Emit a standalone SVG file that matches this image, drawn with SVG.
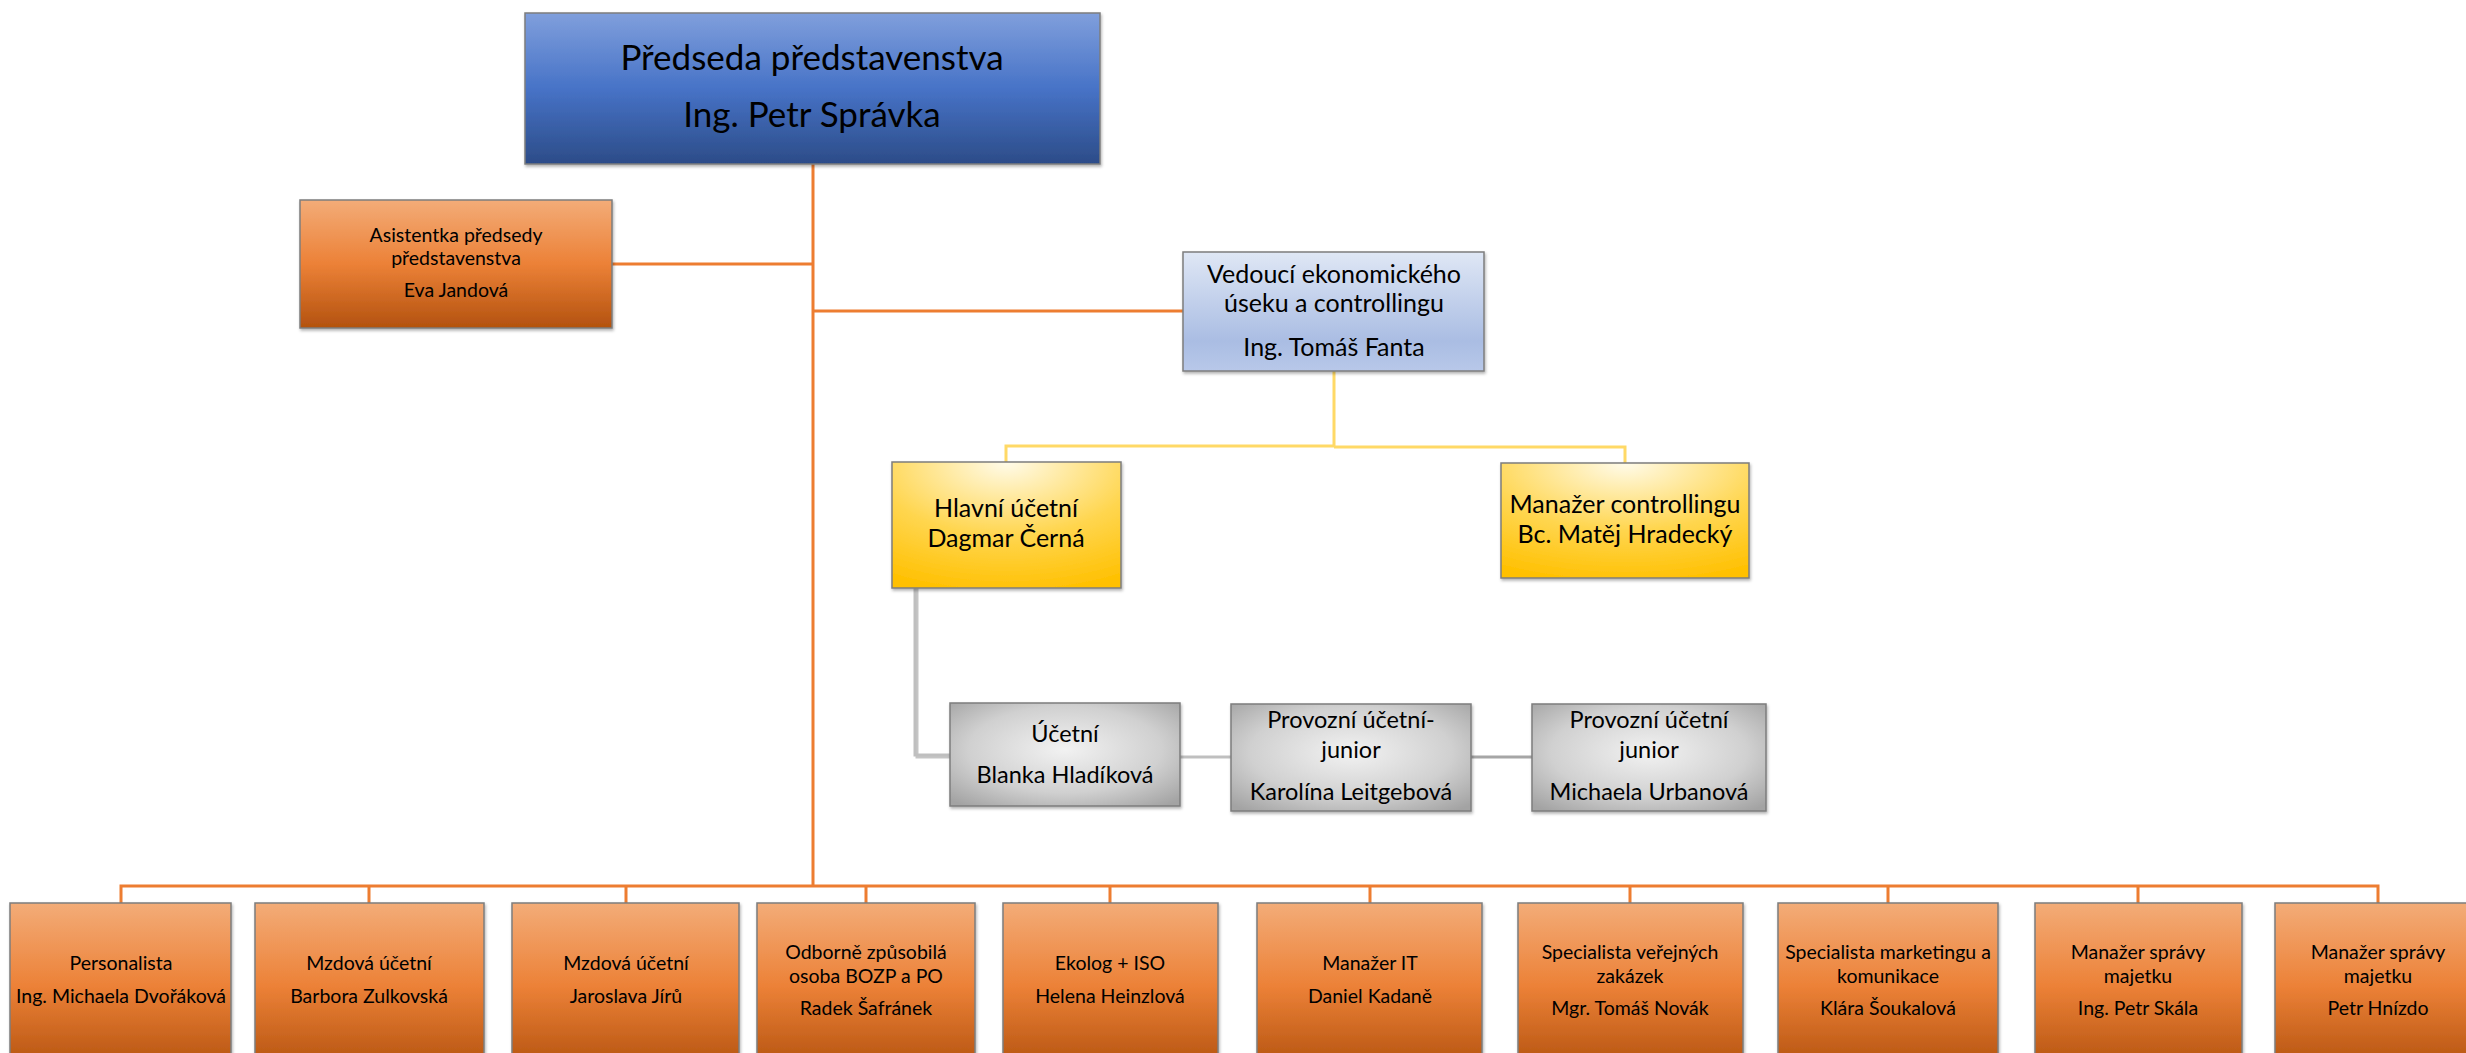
<svg xmlns="http://www.w3.org/2000/svg" width="2466" height="1053" viewBox="0 0 2466 1053">
<defs>
  <linearGradient id="gOrange" x1="0" y1="0" x2="0" y2="1">
    <stop offset="0" stop-color="#F3AC78"/>
    <stop offset="0.5" stop-color="#EC8137"/>
    <stop offset="1" stop-color="#B3520F"/>
  </linearGradient>
  <linearGradient id="gOrangeB" gradientUnits="userSpaceOnUse" x1="0" y1="903" x2="0" y2="1070">
    <stop offset="0" stop-color="#F3AC78"/>
    <stop offset="0.5" stop-color="#EC8137"/>
    <stop offset="1" stop-color="#B3520F"/>
  </linearGradient>
  <linearGradient id="gBlue" x1="0" y1="0" x2="0" y2="1">
    <stop offset="0" stop-color="#809FDC"/>
    <stop offset="0.5" stop-color="#4773C7"/>
    <stop offset="1" stop-color="#2C4C88"/>
  </linearGradient>
  <linearGradient id="gLightBlue" x1="0" y1="0" x2="0" y2="1">
    <stop offset="0" stop-color="#DFE7F5"/>
    <stop offset="0.75" stop-color="#AABDE3"/>
    <stop offset="1" stop-color="#B8C8E9"/>
  </linearGradient>
  <radialGradient id="gYellow" cx="0.5" cy="0" r="1.05">
    <stop offset="0" stop-color="#FFFBEA"/>
    <stop offset="0.55" stop-color="#FFD650"/>
    <stop offset="1" stop-color="#FFC000"/>
  </radialGradient>
  <radialGradient id="gGray" cx="0.5" cy="0.45" r="0.7">
    <stop offset="0" stop-color="#F2F2F2"/>
    <stop offset="0.6" stop-color="#D0D0D0"/>
    <stop offset="1" stop-color="#A3A3A3"/>
  </radialGradient>
  <filter id="sh" x="-5%" y="-5%" width="112%" height="115%">
    <feDropShadow dx="1" dy="2" stdDeviation="1.5" flood-color="#000" flood-opacity="0.3"/>
  </filter>
</defs>
<style>
  .box { stroke: #7d7d7d; stroke-width: 1.5; filter: url(#sh); }
  .t { font-family: Lato, "Liberation Sans", sans-serif; fill: #000; text-anchor: middle; }
  .big { font-size: 35px; }
  .mid { font-size: 25px; }
  .md2 { font-size: 23.5px; }
  .sm { font-size: 19.5px; }
  .or { stroke: #ED7D31; stroke-width: 3; fill: none; }
  .ye { stroke: #FFD966; stroke-width: 3; fill: none; }
  .gr { stroke: #BFBFBF; stroke-width: 3; fill: none; }
  .gr2 { stroke: #A6A6A6; stroke-width: 3; fill: none; }
</style>
<rect width="2466" height="1053" fill="#fff"/>

<g id="connectors">
  <path class="or" d="M813 164 V887"/>
  <path class="or" d="M612 264 H813"/>
  <path class="or" d="M813 311 H1183"/>
  <path class="or" d="M121 903 V886 H2378 V903"/>
  <path class="or" d="M369 886 V903 M626 886 V903 M866 886 V903 M1110 886 V903 M1370 886 V903 M1630 886 V903 M1888 886 V903 M2138 886 V903"/>
  <path class="ye" d="M1334 371 V446 M1006 462 V446 H1334 M1334 447 H1625 V463"/>
  <path d="M917 588 V757 H950" stroke="#8c8c8c" stroke-width="3" fill="none" opacity="0.5"/>
  <path class="gr" d="M915 588 V755 H950"/>
  <path class="gr" d="M1180 757 H1231"/>
  <path class="gr2" d="M1471 757 H1532"/>
</g>

<g id="node-predseda">
  <rect class="box" x="525" y="13" width="575" height="151" fill="url(#gBlue)"/>
  <text class="t big" x="812" y="70">Předseda představenstva</text>
  <text class="t big" x="812" y="127">Ing. Petr Správka</text>
</g>

<g id="node-asistentka">
  <rect class="box" x="300" y="200" width="312" height="128" fill="url(#gOrange)"/>
  <text class="t sm" x="456" y="242">Asistentka předsedy</text>
  <text class="t sm" x="456" y="265">představenstva</text>
  <text class="t sm" x="456" y="297">Eva Jandová</text>
</g>

<g id="node-vedouci">
  <rect class="box" x="1183" y="252" width="301" height="119" fill="url(#gLightBlue)"/>
  <text class="t mid" x="1334" y="283">Vedoucí ekonomického</text>
  <text class="t mid" x="1334" y="312">úseku a controllingu</text>
  <text class="t mid" x="1334" y="356">Ing. Tomáš Fanta</text>
</g>

<g id="node-hlavni">
  <rect class="box" x="892" y="462" width="229" height="126" fill="url(#gYellow)"/>
  <text class="t mid" x="1006" y="517">Hlavní účetní</text>
  <text class="t mid" x="1006" y="547">Dagmar Černá</text>
</g>

<g id="node-controlling">
  <rect class="box" x="1501" y="463" width="248" height="115" fill="url(#gYellow)"/>
  <text class="t mid" x="1625" y="513">Manažer controllingu</text>
  <text class="t mid" x="1625" y="543">Bc. Matěj Hradecký</text>
</g>

<g id="node-ucetni">
  <rect class="box" x="950" y="703" width="230" height="103" fill="url(#gGray)"/>
  <text class="t md2" x="1065" y="742">Účetní</text>
  <text class="t md2" x="1065" y="783">Blanka Hladíková</text>
</g>

<g id="node-provozni1">
  <rect class="box" x="1231" y="704" width="240" height="107" fill="url(#gGray)"/>
  <text class="t md2" x="1351" y="728">Provozní účetní-</text>
  <text class="t md2" x="1351" y="758">junior</text>
  <text class="t md2" x="1351" y="800">Karolína Leitgebová</text>
</g>

<g id="node-provozni2">
  <rect class="box" x="1532" y="704" width="234" height="107" fill="url(#gGray)"/>
  <text class="t md2" x="1649" y="728">Provozní účetní</text>
  <text class="t md2" x="1649" y="758">junior</text>
  <text class="t md2" x="1649" y="800">Michaela Urbanová</text>
</g>

<g id="node-personalista">
  <rect class="box" x="10" y="903" width="221" height="165" fill="url(#gOrangeB)"/>
  <text class="t sm" x="121" y="970">Personalista</text>
  <text class="t sm" x="121" y="1003">Ing. Michaela Dvořáková</text>
</g>
<g id="node-mzdova1">
  <rect class="box" x="255" y="903" width="229" height="165" fill="url(#gOrangeB)"/>
  <text class="t sm" x="369" y="970">Mzdová účetní</text>
  <text class="t sm" x="369" y="1003">Barbora Zulkovská</text>
</g>
<g id="node-mzdova2">
  <rect class="box" x="512" y="903" width="227" height="165" fill="url(#gOrangeB)"/>
  <text class="t sm" x="626" y="970">Mzdová účetní</text>
  <text class="t sm" x="626" y="1003">Jaroslava Jírů</text>
</g>
<g id="node-bozp">
  <rect class="box" x="757" y="903" width="218" height="165" fill="url(#gOrangeB)"/>
  <text class="t sm" x="866" y="959">Odborně způsobilá</text>
  <text class="t sm" x="866" y="983">osoba BOZP a PO</text>
  <text class="t sm" x="866" y="1015">Radek Šafránek</text>
</g>
<g id="node-ekolog">
  <rect class="box" x="1003" y="903" width="215" height="165" fill="url(#gOrangeB)"/>
  <text class="t sm" x="1110" y="970">Ekolog + ISO</text>
  <text class="t sm" x="1110" y="1003">Helena Heinzlová</text>
</g>
<g id="node-it">
  <rect class="box" x="1257" y="903" width="225" height="165" fill="url(#gOrangeB)"/>
  <text class="t sm" x="1370" y="970">Manažer IT</text>
  <text class="t sm" x="1370" y="1003">Daniel Kadaně</text>
</g>
<g id="node-zakazky">
  <rect class="box" x="1518" y="903" width="225" height="165" fill="url(#gOrangeB)"/>
  <text class="t sm" x="1630" y="959">Specialista veřejných</text>
  <text class="t sm" x="1630" y="983">zakázek</text>
  <text class="t sm" x="1630" y="1015">Mgr. Tomáš Novák</text>
</g>
<g id="node-marketing">
  <rect class="box" x="1778" y="903" width="220" height="165" fill="url(#gOrangeB)"/>
  <text class="t sm" x="1888" y="959">Specialista marketingu a</text>
  <text class="t sm" x="1888" y="983">komunikace</text>
  <text class="t sm" x="1888" y="1015">Klára Šoukalová</text>
</g>
<g id="node-majetek1">
  <rect class="box" x="2035" y="903" width="207" height="165" fill="url(#gOrangeB)"/>
  <text class="t sm" x="2138" y="959">Manažer správy</text>
  <text class="t sm" x="2138" y="983">majetku</text>
  <text class="t sm" x="2138" y="1015">Ing. Petr Skála</text>
</g>
<g id="node-majetek2">
  <rect class="box" x="2275" y="903" width="206" height="165" fill="url(#gOrangeB)"/>
  <text class="t sm" x="2378" y="959">Manažer správy</text>
  <text class="t sm" x="2378" y="983">majetku</text>
  <text class="t sm" x="2378" y="1015">Petr Hnízdo</text>
</g>
</svg>
